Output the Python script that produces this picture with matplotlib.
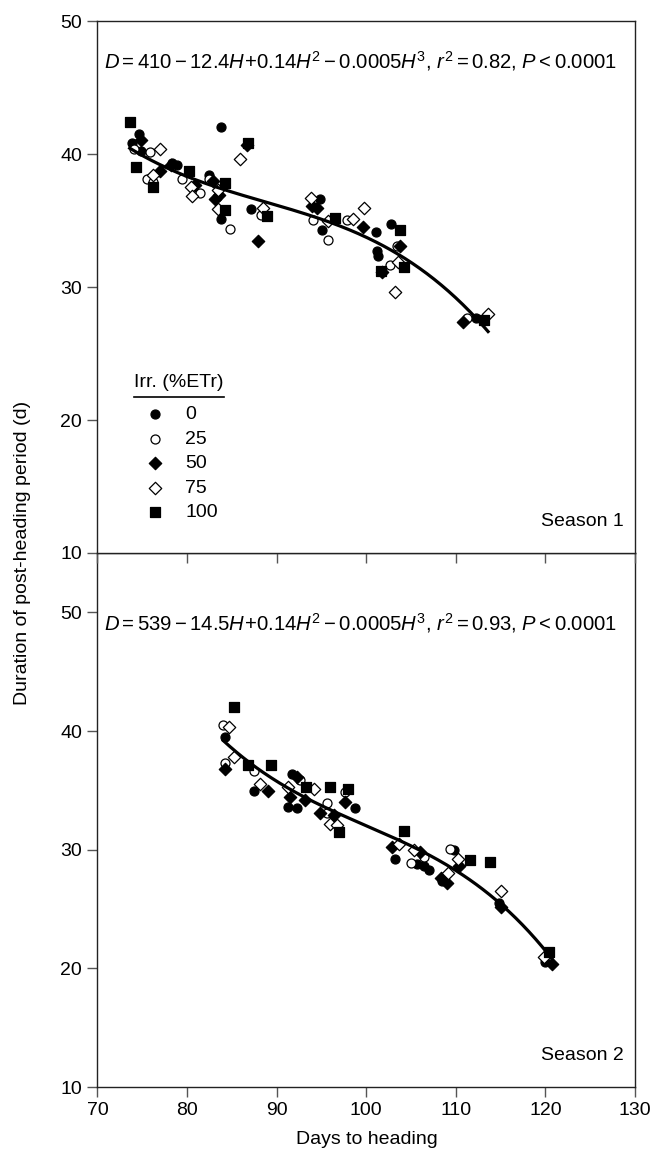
import numpy as np
import matplotlib
matplotlib.use("Agg")
import matplotlib.pyplot as plt

plt.rcParams["font.family"] = ["Liberation Sans", "DejaVu Sans"]
plt.rcParams["mathtext.fontset"] = "custom"
plt.rcParams["mathtext.rm"] = "Liberation Sans"
plt.rcParams["mathtext.it"] = "Liberation Sans:italic"

# ------------------------------------------------------
# Data (days to heading, duration)
# ------------------------------------------------------
treatments = ["0", "25", "50", "75", "100"]

# Season 1
s1_x_0 = [74.6, 73.8, 74.9, 83.8, 78.3, 78.85, 82.45, 83.8, 87.15, 94.8, 95.05, 101.1, 102.75, 101.2, 101.3, 112.3]
s1_y_0 = [41.5, 40.85, 40.2, 42.0, 39.3, 39.2, 38.4, 35.1, 35.85, 36.6, 34.25, 34.1, 34.75, 32.7, 32.3, 27.7]
s1_x_25 = [74.1, 75.9, 75.5, 76.2, 79.4, 81.45, 82.5, 84.8, 88.2, 94.05, 95.7, 97.8, 103.4, 102.7, 111.3]
s1_y_25 = [40.4, 40.15, 38.1, 37.9, 38.1, 37.05, 38.1, 34.35, 35.4, 35.05, 33.5, 35.05, 33.1, 31.65, 27.7]
s1_x_50 = [74.9, 77.0, 78.2, 80.9, 82.9, 83.1, 83.6, 86.7, 87.9, 93.9, 94.45, 99.6, 103.8, 101.8, 110.8]
s1_y_50 = [41.05, 38.75, 39.2, 37.7, 38.0, 36.6, 36.9, 40.7, 33.45, 36.1, 35.95, 34.5, 33.1, 31.1, 27.4]
s1_x_75 = [77.0, 76.2, 80.4, 80.5, 83.5, 83.5, 85.9, 88.5, 93.8, 95.7, 98.5, 99.8, 103.5, 103.2, 113.6]
s1_y_75 = [40.4, 38.4, 37.5, 36.85, 37.3, 35.9, 39.6, 35.95, 36.7, 35.0, 35.1, 35.95, 31.9, 29.65, 28.0]
s1_x_100 = [73.6, 74.3, 76.2, 80.2, 84.25, 84.25, 86.85, 88.9, 96.5, 103.8, 101.6, 104.2, 113.2]
s1_y_100 = [42.4, 39.05, 37.5, 38.7, 37.8, 35.8, 40.8, 35.35, 35.2, 34.3, 31.2, 31.5, 27.5]

# Season 2
s2_x_0 = [84.25, 87.5, 91.7, 91.3, 92.3, 98.7, 103.2, 105.7, 106.4, 107.0, 109.8, 108.5, 114.8, 120.0]
s2_y_0 = [39.5, 34.95, 36.4, 33.6, 33.55, 33.5, 29.2, 28.8, 28.65, 28.3, 30.0, 27.4, 25.5, 20.55]
s2_x_25 = [84.05, 84.25, 87.5, 92.6, 95.6, 97.65, 95.6, 105.0, 106.4, 109.4]
s2_y_25 = [40.5, 37.3, 36.65, 35.9, 33.95, 34.9, 33.1, 28.9, 29.4, 30.1]
s2_x_50 = [84.25, 89.0, 92.25, 91.5, 93.2, 97.65, 94.85, 96.35, 102.9, 106.0, 110.3, 108.3, 109.0, 115.0, 120.75]
s2_y_50 = [36.8, 34.95, 36.1, 34.45, 34.2, 34.05, 33.05, 32.9, 30.2, 29.8, 28.6, 27.6, 27.2, 25.2, 20.4]
s2_x_75 = [84.7, 85.2, 88.1, 91.3, 94.2, 96.0, 96.7, 103.7, 105.3, 110.2, 109.1, 115.0, 119.8]
s2_y_75 = [40.3, 37.8, 35.5, 35.3, 35.1, 32.2, 32.1, 30.45, 30.0, 29.25, 28.0, 26.55, 21.0]
s2_x_100 = [85.2, 86.85, 89.4, 93.3, 96.0, 98.0, 97.0, 104.2, 111.6, 113.8, 120.4]
s2_y_100 = [42.0, 37.1, 37.1, 35.3, 35.25, 35.1, 31.5, 31.6, 29.1, 29.0, 21.4]

eq1 = r"$D=410-12.4H\!+\!0.14H^{2}-0.0005H^{3}$, $r^{2}=0.82$, $P<0.0001$"
eq2 = r"$D=539-14.5H\!+\!0.14H^{2}-0.0005H^{3}$, $r^{2}=0.93$, $P<0.0001$"

# marker style for each irrigation level
styles = {
    "0":   dict(marker="o", facecolor="black", s=42),
    "25":  dict(marker="o", facecolor="white", s=42),
    "50":  dict(marker="D", facecolor="black", s=40),
    "75":  dict(marker="D", facecolor="white", s=40),
    "100": dict(marker="s", facecolor="black", s=48),
}

fig = plt.figure(figsize=(6.52, 11.62), dpi=100)
ax1 = fig.add_axes([0.1495, 0.5241, 0.8244, 0.4578])
ax2 = fig.add_axes([0.1495, 0.0645, 0.8244, 0.4596])
ax1.set_zorder(3)


def draw_panel(ax, xs, ys, eq, season, ymax, eq_y):
    for t, x, y in zip(treatments, xs, ys):
        st = styles[t]
        ax.scatter(x, y, marker=st["marker"], s=st["s"], facecolor=st["facecolor"],
                   edgecolor="black", linewidth=0.9, zorder=3)
    # cubic regression fitted to all points of the season
    allx = np.concatenate([np.array(v) for v in xs])
    ally = np.concatenate([np.array(v) for v in ys])
    coef = np.polyfit(allx, ally, 3)
    hx = np.linspace(allx.min(), allx.max(), 200)
    ax.plot(hx, np.polyval(coef, hx), color="black", lw=2.3, zorder=4)

    ax.set_xlim(70, 130)
    ax.set_ylim(10, ymax)
    ax.set_yticks([10, 20, 30, 40, 50])
    ax.set_xticks([70, 80, 90, 100, 110, 120, 130])
    ax.tick_params(direction="out", length=7.5, width=1, color="#555555",
                   labelsize=14, top=False, right=False)
    for sp in ax.spines.values():
        sp.set_linewidth(1)
        sp.set_color("#222222")
    ax.text(0.012, eq_y, eq, transform=ax.transAxes,
            fontsize=14.6, va="center", ha="left")
    ax.text(0.98, 0.06, season, transform=ax.transAxes, fontsize=14,
            ha="right", va="center")


draw_panel(ax1, [s1_x_0, s1_x_25, s1_x_50, s1_x_75, s1_x_100],
           [s1_y_0, s1_y_25, s1_y_50, s1_y_75, s1_y_100], eq1, "Season 1", 50, 0.925)
draw_panel(ax2, [s2_x_0, s2_x_25, s2_x_50, s2_x_75, s2_x_100],
           [s2_y_0, s2_y_25, s2_y_50, s2_y_75, s2_y_100], eq2, "Season 2", 55, 0.869)
ax1.tick_params(labelbottom=False)

# hand made legend in the top panel
ax1.text(0.068, 0.32, "Irr. (%ETr)", transform=ax1.transAxes, fontsize=14,
         ha="left", va="center")
ax1.plot([0.068, 0.235], [0.293, 0.293], transform=ax1.transAxes, color="black", lw=1.2)
rows = [0.261, 0.214, 0.169, 0.122, 0.077]
for t, ry in zip(treatments, rows):
    st = styles[t]
    ax1.scatter([0.107], [ry], transform=ax1.transAxes, marker=st["marker"], s=st["s"],
                facecolor=st["facecolor"], edgecolor="black", linewidth=0.9, clip_on=False)
    ax1.text(0.163, ry, t, transform=ax1.transAxes, fontsize=14, ha="left", va="center")

fig.text(0.034, 0.524, "Duration of post-heading period (d)", rotation=90,
         fontsize=14, ha="center", va="center")
fig.text(0.5626, 0.019, "Days to heading", fontsize=14, ha="center", va="center")

fig.savefig("out.png", dpi=100)
